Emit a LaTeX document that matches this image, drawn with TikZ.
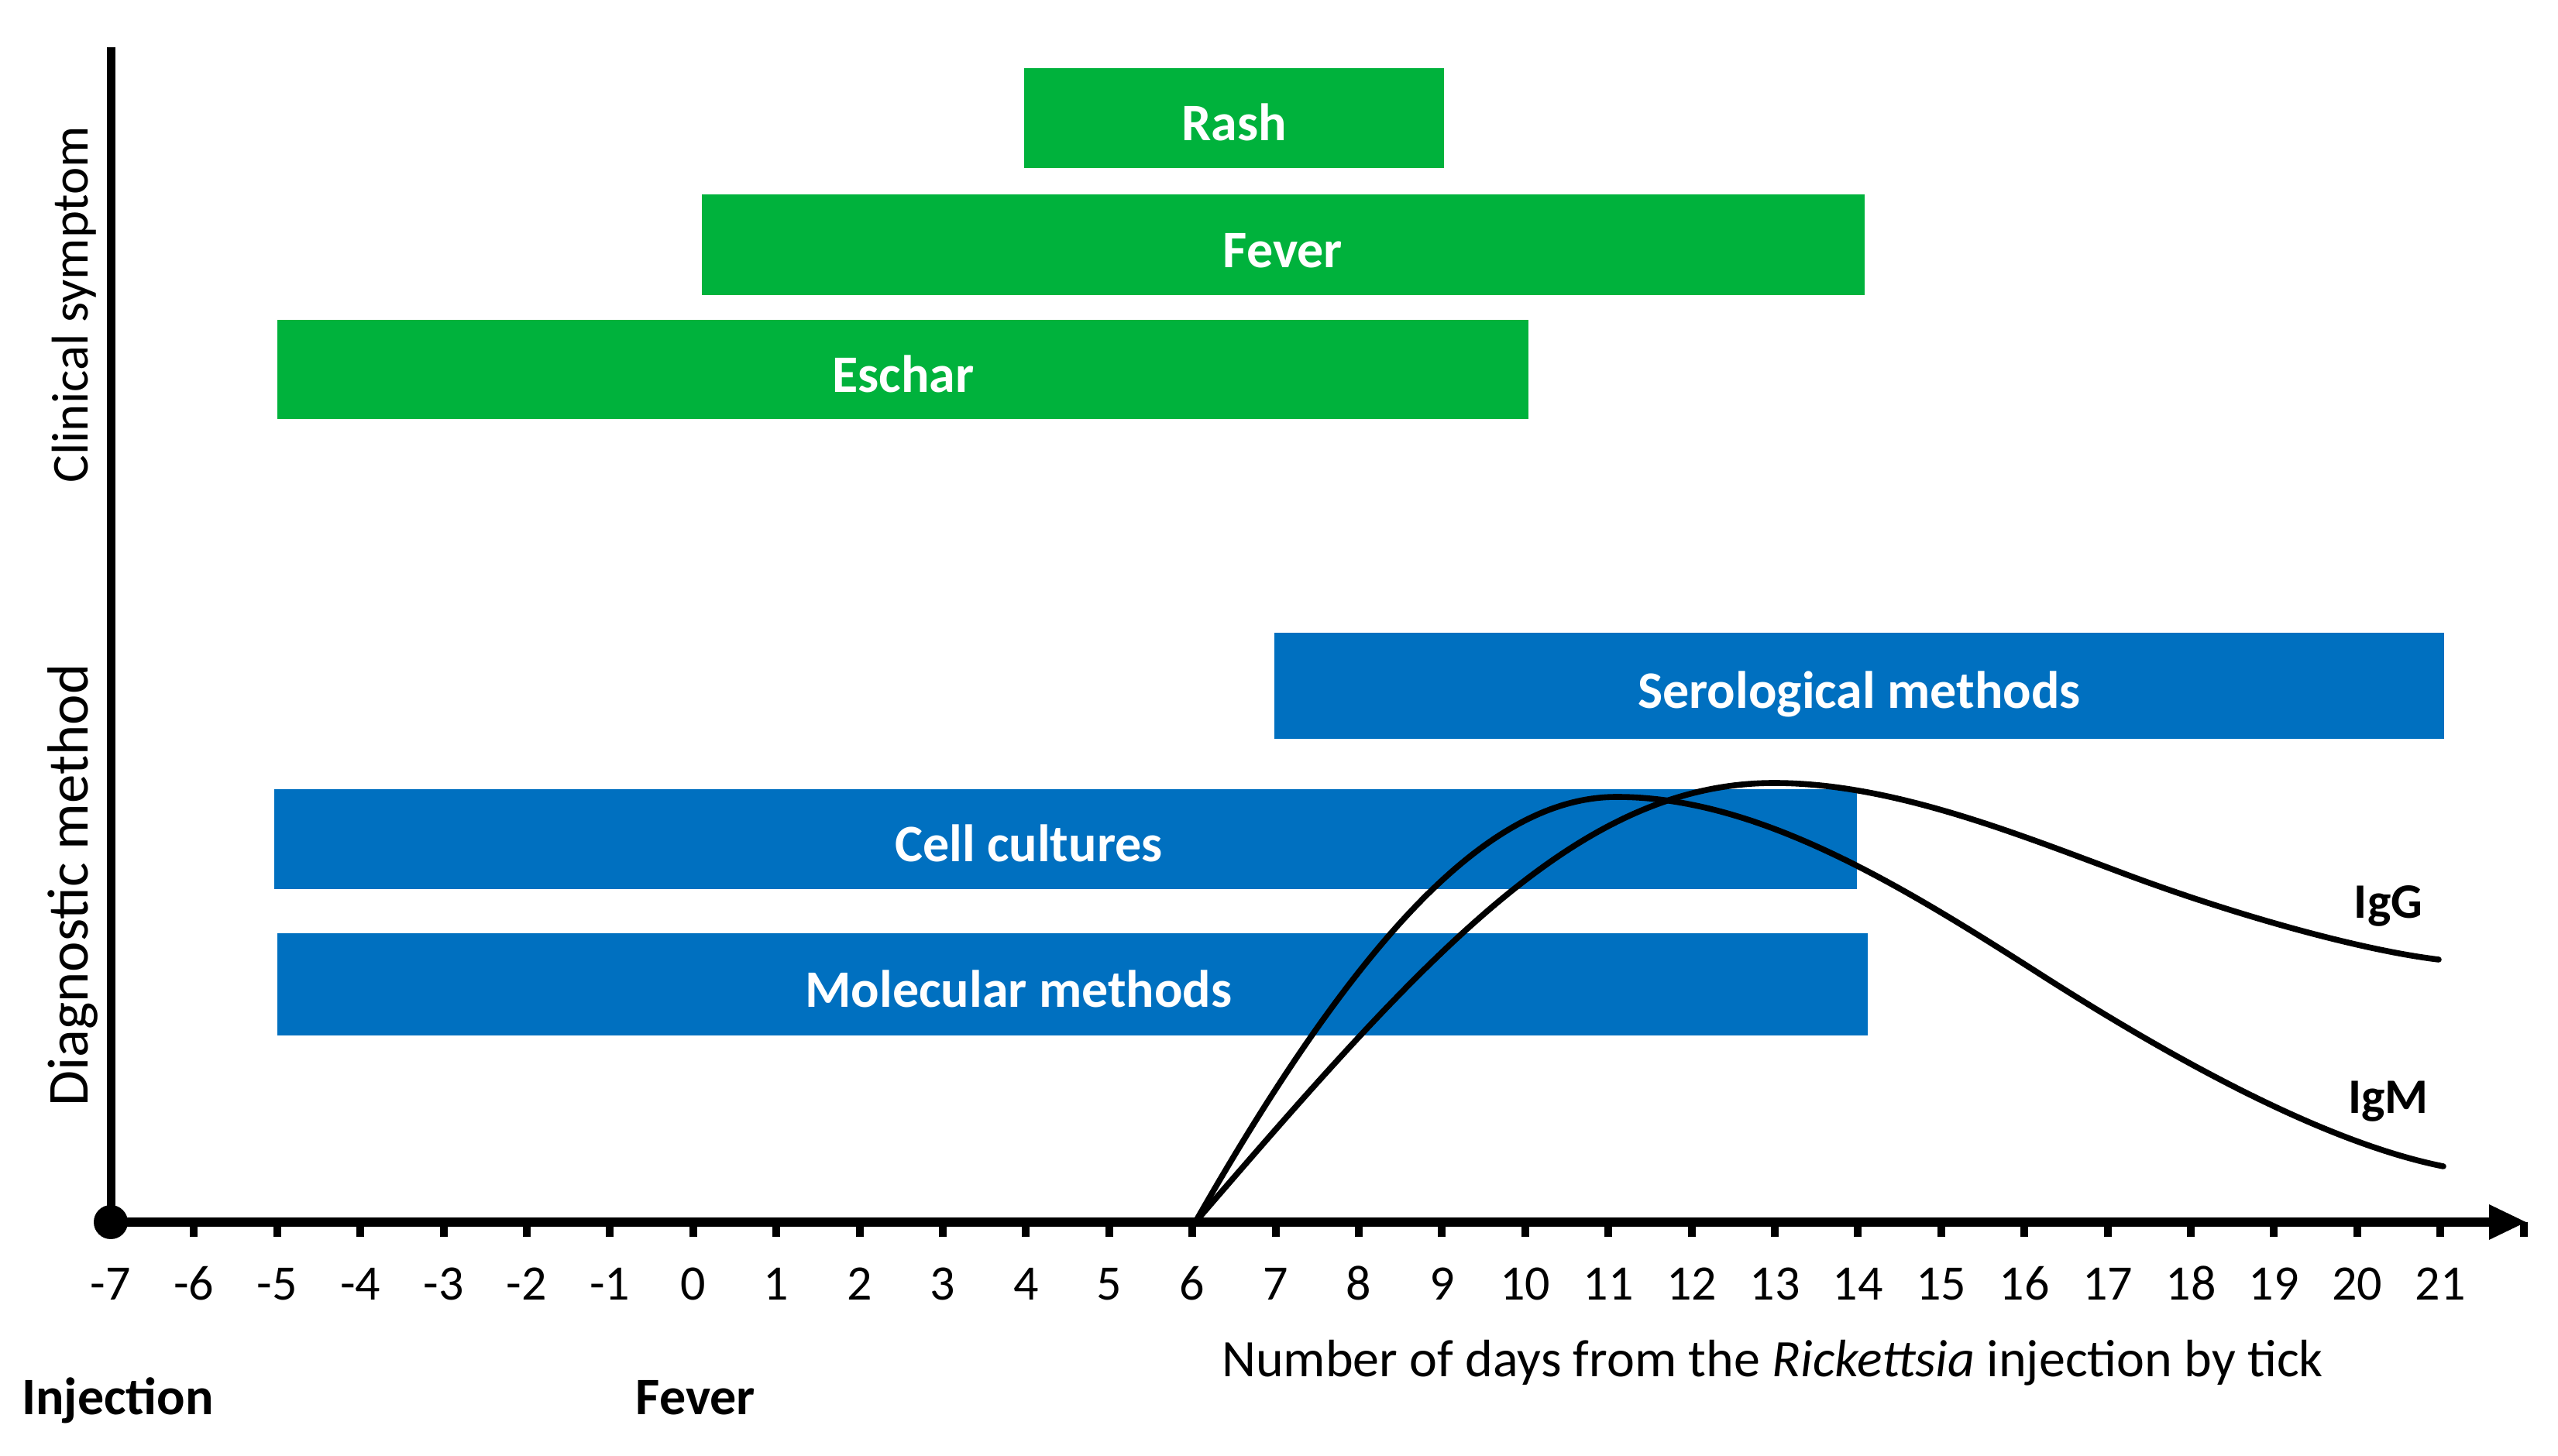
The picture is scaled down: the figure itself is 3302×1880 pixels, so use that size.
\documentclass[tikz,border=0pt]{standalone}
\usepackage{fontspec}
\setmainfont{Carlito}
\usetikzlibrary{arrows.meta}
\definecolor{symgreen}{RGB}{0,178,60}
\definecolor{diagblue}{RGB}{0,112,192}
\begin{document}
\begin{tikzpicture}[x=0.25pt,y=-0.25pt,
  symbox/.style={fill=symgreen},
  diagbox/.style={fill=diagblue},
  boxlabel/.style={text=white, font=\fontsize{17}{20}\selectfont\bfseries, inner sep=0, anchor=base},
  ticklabel/.style={font=\fontsize{16}{19}\selectfont, inner sep=0, anchor=base},
  boldlabel/.style={font=\fontsize{17}{20}\selectfont\bfseries, inner sep=0, anchor=base},
  axistitle/.style={inner sep=0, anchor=base, rotate=90},
  tickmark/.style={line width=2.5pt},
  curve/.style={line width=1.9pt, line cap=round}]
\useasboundingbox (0,0) rectangle (3302,1880);
% clinical symptom bars
\path[symbox] (1322,88) rectangle (1864,217);
\path[symbox] (906,251) rectangle (2407,381);
\path[symbox] (358,413) rectangle (1973,541);
\node[boxlabel] (rash) at (1593,182) {Rash};
\node[boxlabel] (fever) at (1656,346) {Fever};
\node[boxlabel] (eschar) at (1166,507) {Eschar};
% diagnostic method bars
\path[diagbox] (1645,817) rectangle (3155,954);
\path[diagbox] (354,1019) rectangle (2397,1148);
\path[diagbox] (358,1205) rectangle (2411,1337);
\node[boxlabel] (sero) at (2400,915) {Serological methods};
\node[boxlabel] (cell) at (1328,1113) {Cell cultures};
\node[boxlabel] (mol) at (1315,1301) {Molecular methods};
% axes
\coordinate (O) at (143,1578);
\coordinate (ytop) at (143,61);
\coordinate (xend) at (3262,1578);
\draw[line width=2.75pt] (O) -- (ytop);
\foreach \d in {-6,...,22} {
  \draw[tickmark] ({143+(\d+7)*107.4},1578) -- ++(0,19);
}
\draw[line width=3pt, -{Triangle[length=12.25pt,width=10.5pt]}] (O) -- (xend);
\fill (O) circle[radius=22];
\foreach \d in {-7,...,21} {
  \node[ticklabel] (t\d) at ({143+(\d+7)*107.4},1679) {\d};
}
\node[ticklabel, font=\fontsize{17}{20}\selectfont] (xtitle) at (2288,1778) {Number of days from the \textit{Rickettsia} injection by tick};
\node[boldlabel] (inj) at (152,1827) {Injection};
\node[boldlabel] (fev) at (898,1827) {Fever};
\node[axistitle, font=\fontsize{16.7}{20}\selectfont] (clin) at (113,393) {Clinical symptom};
\node[axistitle, font=\fontsize{18.7}{22}\selectfont] (diag) at (113,1143) {Diagnostic method};
% antibody curves
\coordinate (ab0) at (1543,1578);
% IgM
\draw[curve] (ab0) .. controls (1772,1176) and (1937,1029) .. (2087,1029)
  .. controls (2267,1029) and (2449,1140) .. (2629,1255)
  .. controls (2849,1396) and (3024,1480) .. (3154,1506);
% IgG
\draw[curve] (ab0) .. controls (1846,1226) and (2040,1011) .. (2290,1011)
  .. controls (2440,1011) and (2597,1074) .. (2747,1130)
  .. controls (2887,1182) and (3048,1227) .. (3148,1239);
\node[boldlabel, font=\fontsize{16}{19}\selectfont\bfseries] (igg) at (3083,1186) {IgG};
\node[boldlabel, font=\fontsize{16}{19}\selectfont\bfseries] (igm) at (3083,1438) {IgM};
\end{tikzpicture}
\end{document}
